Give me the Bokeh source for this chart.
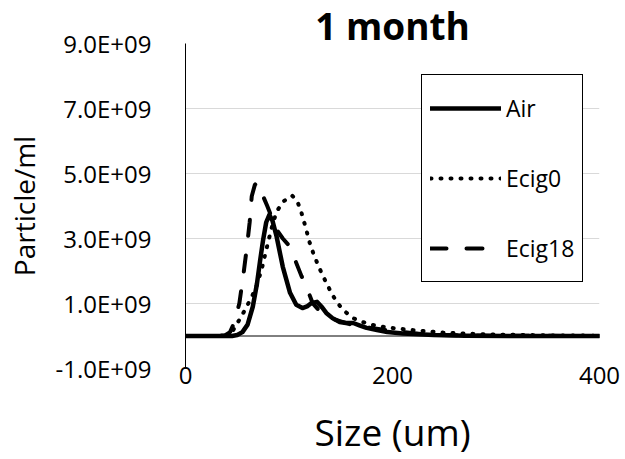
from bokeh.plotting import figure
from bokeh.models import Range1d, FixedTicker, Span, Legend, LegendItem
from bokeh.embed import file_html
from bokeh.resources import INLINE

# ---- data (sizes in um, concentrations in particles/ml) ----
air_x = [0, 30, 45, 50, 55, 60, 65, 69, 72, 75, 78, 81, 84, 88, 94, 101, 107, 113, 118, 122, 127,
         132, 136, 142, 149, 155, 162, 168, 175, 185, 195, 210, 220, 240, 270, 320, 400]
air_y = [0, 0, 0, 0.03, 0.12, 0.35, 0.9, 1.6, 2.3, 2.96, 3.5, 3.73, 3.55, 3.06, 2.13, 1.33, 0.96,
         0.86, 0.92, 1.02, 1.05, 0.88, 0.71, 0.55, 0.43, 0.4, 0.4, 0.33, 0.25, 0.18, 0.12, 0.08,
         0.06, 0.03, 0.01, 0, 0]

ecig0_x = [0, 30, 40, 45, 49, 54, 59, 64, 69, 74, 78, 83, 88, 95, 103, 108, 112, 116, 120, 124,
           128, 132, 136, 141, 146, 153, 162, 170, 181, 195, 220, 250, 290, 350, 400]
ecig0_y = [0, 0, 0.02, 0.12, 0.34, 0.6, 0.9, 1.2, 1.57, 2.1, 2.65, 3.3, 3.83, 4.15, 4.32, 4.15,
           3.8, 3.35, 2.87, 2.5, 2.19, 1.9, 1.64, 1.32, 1.05, 0.78, 0.55, 0.44, 0.34, 0.26, 0.18,
           0.1, 0.05, 0.02, 0.01]

ecig18_x = [0, 30, 38, 43, 47, 52, 56, 59, 62, 64, 67, 69, 72, 75, 79, 84, 88, 94, 101, 107, 112,
            117, 123, 130, 140, 150, 160, 175, 190, 210, 230, 260, 300, 400]
ecig18_y = [0, 0, 0.02, 0.12, 0.4, 1.0, 1.9, 2.65, 3.5, 4.3, 4.65, 4.72, 4.6, 4.3, 4.0, 3.6, 3.27,
            3.0, 2.75, 2.25, 1.85, 1.5, 1.0, 0.75, 0.55, 0.45, 0.35, 0.27, 0.2, 0.12, 0.05, 0.02,
            0.01, 0]

SCALE = 1e9
y_ticks = [-1e9, 1e9, 3e9, 5e9, 7e9, 9e9]
y_tick_labels = ["-1.0E+09", "1.0E+09", "3.0E+09", "5.0E+09", "7.0E+09", "9.0E+09"]
x_ticks = [0, 200, 400]
x_tick_labels = ["0", "200", "400"]
series_names = ["Air", "Ecig0", "Ecig18"]

FONT = "Open Sans"

p = figure(width=625, height=459, output_backend="svg", toolbar_location=None,
           x_range=Range1d(0, 400), y_range=Range1d(-1e9, 9e9),
           min_border_left=185, min_border_right=26, min_border_top=43, min_border_bottom=91)

p.title.text = "1 month"
p.title.text_font = FONT
p.title.text_font_size = "37px"
p.title.text_font_style = "bold"
p.title.align = "center"
p.title.text_color = "black"
p.title.standoff = -14

p.outline_line_color = None
p.background_fill_color = "white"
p.border_fill_color = "white"

# grid
p.xgrid.grid_line_color = None
p.ygrid.grid_line_color = "#d9d9d9"
p.ygrid.grid_line_width = 1
p.ygrid.ticker = FixedTicker(ticks=y_ticks)

# y axis
ya = p.yaxis[0]
ya.ticker = FixedTicker(ticks=y_ticks)
ya.major_label_overrides = {t: l for t, l in zip(y_ticks, y_tick_labels)}
ya.axis_label = "Particle/ml"
ya.axis_label_text_font = FONT
ya.axis_label_text_font_size = "28px"
ya.axis_label_text_font_style = "normal"
ya.axis_label_text_color = "black"
ya.axis_label_standoff = 10
ya.major_label_text_font = FONT
ya.major_label_text_font_size = "24px"
ya.major_label_text_color = "black"
ya.major_label_standoff = 28
ya.major_tick_line_color = None
ya.minor_tick_line_color = None
ya.axis_line_color = "black"
ya.axis_line_width = 1

# x axis
xa = p.xaxis[0]
xa.ticker = FixedTicker(ticks=x_ticks)
xa.major_label_overrides = {t: l for t, l in zip(x_ticks, x_tick_labels)}
xa.axis_label = "Size (um)"
xa.axis_label_text_font = FONT
xa.axis_label_text_font_size = "37px"
xa.axis_label_text_font_style = "normal"
xa.axis_label_text_color = "black"
xa.axis_label_standoff = 19
xa.major_label_text_font = FONT
xa.major_label_text_font_size = "24px"
xa.major_label_text_color = "black"
xa.major_label_standoff = -8
xa.major_tick_line_color = None
xa.minor_tick_line_color = None
xa.axis_line_color = None

# horizontal axis line at y = 0
p.add_layout(Span(location=0, dimension="width", line_color="black", line_width=1))

r_air = p.line(air_x, [v * SCALE for v in air_y], line_color="black",
               line_width=4.5, line_join="round", line_cap="round")
r_e0 = p.line(ecig0_x, [v * SCALE for v in ecig0_y], line_color="black",
              line_width=4, line_dash="1 9", line_cap="round", line_join="round")
r_e18 = p.line(ecig18_x, [v * SCALE for v in ecig18_y], line_color="black",
               line_width=4, line_dash="16 20", line_cap="round", line_join="round")

legend = Legend(items=[LegendItem(label=series_names[0], renderers=[r_air]),
                       LegendItem(label=series_names[1], renderers=[r_e0]),
                       LegendItem(label=series_names[2], renderers=[r_e18])],
                location=(236, 86))
legend.border_line_color = "black"
legend.border_line_width = 1
legend.border_line_alpha = 1
legend.background_fill_color = "white"
legend.background_fill_alpha = 1
legend.label_text_font = FONT
legend.label_text_font_size = "23px"
legend.label_text_color = "black"
legend.glyph_width = 71
legend.glyph_height = 50
legend.label_height = 50
legend.label_standoff = 5
legend.spacing = 20
legend.padding = 8
legend.margin = 0
p.add_layout(legend, "center")

open("out.html", "w").write(file_html(p, INLINE))
